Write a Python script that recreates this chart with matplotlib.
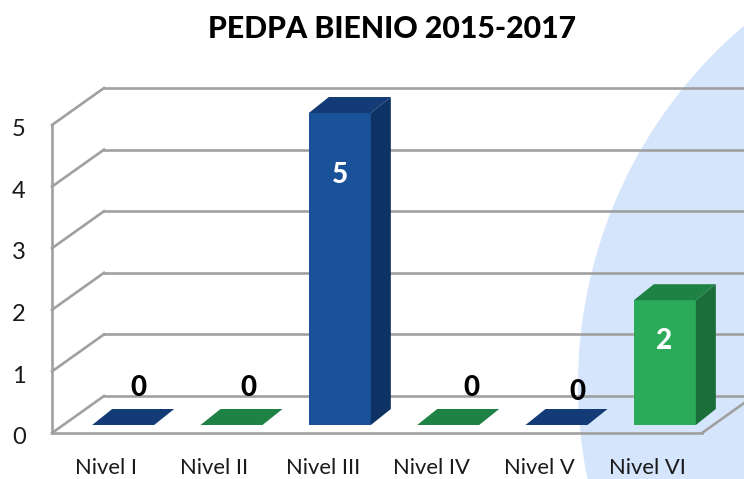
"""PEDPA bienio 2015-2017: fake-3D column chart drawn as polygons on a 2D axes."""
import matplotlib
matplotlib.use("Agg")
import matplotlib.pyplot as plt
from matplotlib.patches import Circle, Polygon
from matplotlib.transforms import ScaledTranslation

plt.rcParams["font.family"] = ["Lato", "DejaVu Sans"]

categories = ["Nivel I", "Nivel II", "Nivel III", "Nivel IV", "Nivel V", "Nivel VI"]
values = [0, 0, 5, 0, 0, 2]
yticks = [0, 1, 2, 3, 4, 5]
title = "PEDPA BIENIO 2015-2017"

W, H = 744, 479
DPI = 100
GREY = "#a0a0a0"
BLUE = ("#1a5299", "#133b76", "#0f3264")   # front, top, side
GREEN = ("#2bab59", "#1f8245", "#1b6e3a")
bar_colors = [BLUE, GREEN, BLUE, GREEN, BLUE, GREEN]
# the labels don't sit evenly in the original, offsets in px from (slot centre, value)
label_dx = [32, 34, 17, 40, 38, 16]
label_dy = [45, 45, -50, 45, 41, -31]

fig = plt.figure(figsize=(W / DPI, H / DPI), dpi=DPI)

# background disc, in pixel coords
bg = fig.add_axes([0, 0, 1, 1], zorder=0)
bg.set_xlim(0, W)
bg.set_ylim(H, 0)
bg.axis("off")
bg.add_patch(Circle((1050, 385), 472, facecolor="#d5e5fb", edgecolor="none"))

# front plane of the chart: x 52..702 px, y 433 (0) .. 125 (5) px
ax = fig.add_axes([52 / W, 1 - 433 / H, 650 / W, 308 / H], zorder=1)
ax.patch.set_visible(False)
ax.set_xlim(-0.5, 5.5)
ax.set_ylim(0, 5)
for s in ax.spines.values():
    s.set_visible(False)

ux = 650 / 6  # px per category
uy = 308 / 5  # px per y unit
wall_dx, wall_dy = 52 / ux, 37 / uy
bar_dx, bar_dy = 20 / ux, 16 / uy
bar_w = 62 / ux
bar_shift = 17 / ux  # bars sit right of the slot centre
floor_gap = 8 / uy
bar_scale = 1.013

# walls and floor
line = dict(color=GREY, lw=1.9, solid_capstyle="projecting", clip_on=False, zorder=1)
ax.plot([-0.5, -0.5], [0, 5], **line)
ax.plot([-0.5, 5.5], [0, 0], **line)
ax.plot([5.5, 5.5 + wall_dx], [0, wall_dy], **line)
for t in yticks:
    ax.plot([-0.5, -0.5 + wall_dx], [t, t + wall_dy], **line)
    ax.plot([-0.5 + wall_dx, 5.5 + wall_dx], [t + wall_dy, t + wall_dy], **line)

# columns
for i, (v, cols) in enumerate(zip(values, bar_colors)):
    x0 = i - bar_w / 2 + bar_shift
    x1 = x0 + bar_w
    y0 = floor_gap
    y1 = y0 + v * bar_scale
    front, top, side = cols
    if v > 0:
        ax.add_patch(Polygon([(x0, y0), (x1, y0), (x1, y1), (x0, y1)],
                             facecolor=front, edgecolor="none", zorder=3, clip_on=False))
        ax.add_patch(Polygon([(x1, y0), (x1 + bar_dx, y0 + bar_dy), (x1 + bar_dx, y1 + bar_dy), (x1, y1)],
                             facecolor=side, edgecolor="none", zorder=3, clip_on=False))
    ax.add_patch(Polygon([(x0, y1), (x1, y1), (x1 + bar_dx, y1 + bar_dy), (x0 + bar_dx, y1 + bar_dy)],
                         facecolor=top, edgecolor="none", zorder=3, clip_on=False))

# value labels
for i, (v, dx, dy) in enumerate(zip(values, label_dx, label_dy)):
    ax.annotate(str(v), (i, v), xytext=(dx * 72 / DPI, dy * 72 / DPI), textcoords="offset points",
                ha="center", va="center", fontsize=20, fontweight="black",
                color="white" if v > 0 else "black", zorder=5)

ax.set_xticks(range(len(categories)))
ax.set_xticklabels(categories, fontsize=15.8, color="#1a1a1a")
ax.set_yticks(yticks)
ax.set_yticklabels([str(t) for t in yticks], fontsize=17, color="#1a1a1a")
ax.tick_params(axis="both", length=0)
ax.tick_params(axis="x", pad=18)
ax.tick_params(axis="y", pad=19)
# nudge the y labels down a little, they sit low in the original.
# has to come after tick_params, which resets the label transforms
nudge = ScaledTranslation(0, -2 / 72, fig.dpi_scale_trans)
for lab in ax.get_yticklabels():
    lab.set_transform(lab.get_transform() + nudge)

fig.text(392 / W, 1 - 29 / H, title, ha="center", va="center", fontsize=21.8, fontweight="black", color="black")

fig.savefig("out.png", dpi=DPI)
